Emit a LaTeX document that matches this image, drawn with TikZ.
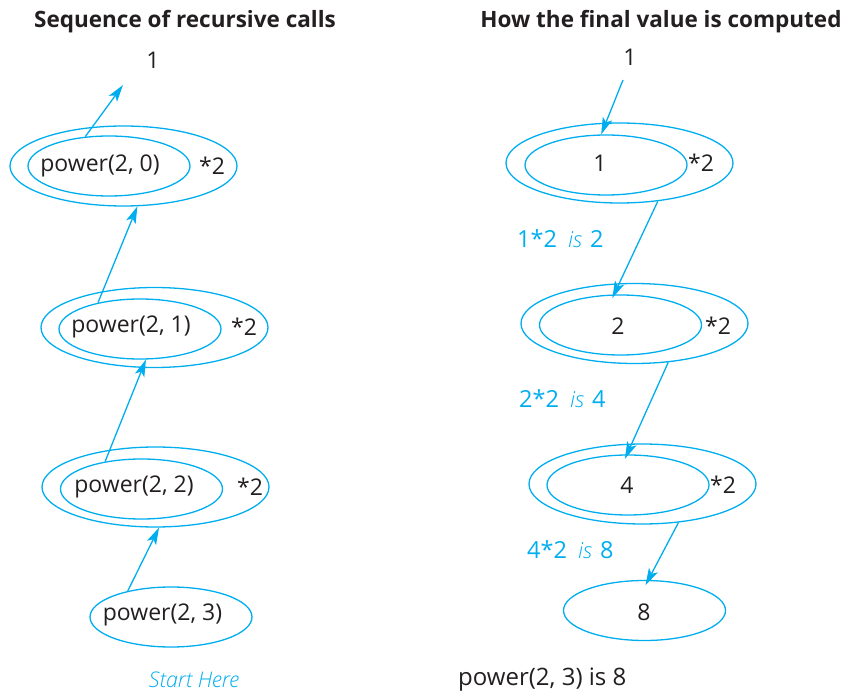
\documentclass[tikz,border=0pt]{standalone}
\usepackage{fontspec}
\setmainfont{Open Sans}
\newfontfamily\handfont{Open Sans Light}[ItalicFont={Open Sans Light Italic}]
\newcommand\isword{{\fontsize{22}{26}\selectfont\handfont\itshape is}}
\usetikzlibrary{shapes.geometric,arrows.meta}
\definecolor{cy}{RGB}{0,174,239}
\definecolor{ink}{RGB}{35,31,32}
\tikzset{
  outell/.style={draw=cy,line width=1.3pt,ellipse,minimum width=227pt,minimum height=80pt,inner sep=0pt},
  inell/.style={draw=cy,line width=1.3pt,ellipse,minimum width=162pt,minimum height=60pt,inner sep=0pt},
  txt/.style={text=ink,font=\fontsize{23}{28}\selectfont,inner sep=0pt},
  ttl/.style={text=ink,font=\fontsize{22.5}{27}\selectfont\bfseries,inner sep=0pt},
  lbl/.style={text=cy,font=\fontsize{23.5}{28}\selectfont,inner sep=0pt},
  conn/.style={draw=cy,line width=1.3pt,-{Stealth[length=17pt,width=10pt,inset=4pt]}},
}
\begin{document}
\begin{tikzpicture}[x=1pt,y=-1pt]
\useasboundingbox (0,0) rectangle (846,692);
% titles
\node[ttl] (t1) at (185,22) {Sequence of recursive calls};
\node[ttl] (t2) at (661,22) {How the final value is computed};
% left column
\node[txt] (one) at (153,60) {1};
\coordinate (tipone) at (123,85);
\node[outell] (o1) at (123.5,166) {};
\node[inell] (i1) at (109,166) {};
\node[txt] (p0) at (100,166) {power(2, 0)};
\node[txt] (m1) at (212,166) {*2};

\node[outell] (o2) at (154.5,327.5) {};
\node[inell] (i2) at (140,329) {};
\node[txt] (p1) at (131,327) {power(2, 1)};
\node[txt] (m2) at (244,327) {*2};

\node[outell] (o3) at (155.5,487) {};
\node[inell] (i3) at (141.5,489) {};
\node[txt] (p2) at (134,487) {power(2, 2)};
\node[txt] (m3) at (250,487) {*2};

\node[inell] (i4) at (171,617) {};
\node[txt] (p3) at (162.5,615) {power(2, 3)};

\node[text=cy,inner sep=0pt,font=\fontsize{21.5}{25}\selectfont\handfont\itshape] (start) at (194,680) {Start Here};

\draw[conn] (i1.129) -- (tipone);
\draw[conn] (i2.148) -- (o1.-71);
\draw[conn] (i3.143) -- (i2.-79);
\draw[conn] (i4.149) -- (o3.-85);

% right column
\node[txt] (r1) at (630,57) {1};
\coordinate (fromone) at (623,80);
\node[outell] (q1) at (619.5,163) {};
\node[inell] (j1) at (606,165) {};
\node[txt] (v1) at (600,163) {1};
\node[txt] (n1) at (701,163) {*2};

\node[outell] (q2) at (634.5,323.5) {};
\node[inell] (j2) at (620.5,325) {};
\node[txt] (v2) at (618,326) {2};
\node[txt] (n2) at (718,326) {*2};

\node[outell] (q3) at (642.5,484) {};
\node[inell] (j3) at (628,485) {};
\node[txt] (v3) at (627,485) {4};
\node[txt] (n3) at (723,485) {*2};

\node[inell] (j4) at (644.5,610.5) {};
\node[txt] (v4) at (644,612) {8};

\node[lbl,anchor=west] (l1) at (517,239) {1*2\hspace{11pt}\isword\hspace{8pt}2};
\node[lbl,anchor=west] (l2) at (519,399) {2*2\hspace{11pt}\isword\hspace{8pt}4};
\node[lbl,anchor=west] (l3) at (527,550) {4*2\hspace{11pt}\isword\hspace{8pt}8};

\node[txt,anchor=west,font=\fontsize{24}{28}\selectfont] (res) at (458,680) {power(2, 3) is 8};

\draw[conn] (fromone) -- (j1.99);
\draw[conn,shorten >=-4pt] (q1.-45) -- (j2.102);
\draw[conn,shorten >=-5pt] (q2.-49) -- (j3.92);
\draw[conn,shorten >=-6pt] (q3.-47) -- (j4.83);
\end{tikzpicture}
\end{document}
